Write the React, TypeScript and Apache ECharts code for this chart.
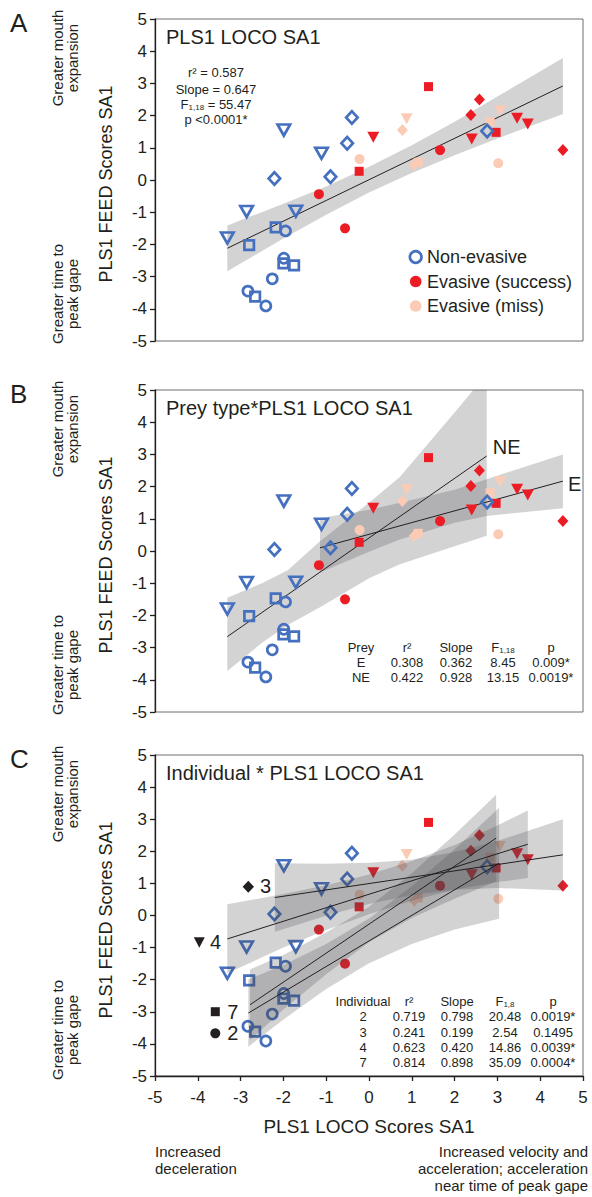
import React, { useEffect, useRef } from "react";
import * as echarts from "echarts";

const FONT = '"Liberation Sans", Arial, Helvetica, sans-serif';
const INK = "#231f20";
const BLUE = "#4570bf";
const RED = "#ec1c24";
const PEACH = "#fbcbb5";
const BAND = "rgba(70,72,76,0.24)";

// ---- axis ----
const AXIS_MIN = -5;
const AXIS_MAX = 5;
const AXIS_STEP = 1;

// ---- points [x, y] ----
const nonEvasiveCircle = [[-1.95, -1.58], [-1.99, -2.43], [-2.26, -3.07], [-2.83, -3.45], [-2.41, -3.91]];
const nonEvasiveSquare = [[-2.8, -2.02], [-2.18, -1.47], [-2.0, -2.59], [-1.75, -2.65], [-2.66, -3.62]];
const nonEvasiveTriangle = [[-3.31, -1.8], [-2.86, -0.98], [-1.99, 1.55], [-1.71, -0.97], [-1.11, 0.83]];
const nonEvasiveDiamond = [[-2.21, 0.05], [-0.9, 0.1], [-0.51, 1.14], [-0.4, 1.94], [2.76, 1.52]];
const successCircle = [[-1.17, -0.44], [-0.56, -1.5], [1.66, 0.93]];
const successSquare = [[1.39, 2.9], [-0.23, 0.27], [2.97, 1.48]];
const successTriangle = [[0.1, 1.33], [2.4, 1.27], [3.46, 1.92], [3.71, 1.74]];
const successDiamond = [[2.58, 2.5], [2.38, 2.02], [4.53, 0.93]];
const missCircle = [[-0.22, 0.65], [3.02, 0.52]];
const missSquare = [[1.15, 0.55], [2.83, 1.81]];
const missTriangle = [[0.88, 1.9], [3.06, 2.15]];
const missDiamond = [[0.78, 1.55], [1.06, 0.47]];

// ---- regression lines ----
const lineAll = [[-3.31, -2.12], [4.53, 2.92]];
const lineNE = [[-3.31, -2.66], [2.75, 2.95]];
const lineE = [[-1.145, 0.1], [4.53, 2.17]];
const lineInd2 = [[-2.82, -3.04], [3.04, 1.63]];
const lineInd3 = [[-2.2, 0.56], [4.53, 1.89]];
const lineInd4 = [[-3.31, -0.73], [3.71, 2.22]];
const lineInd7 = [[-2.78, -2.78], [2.97, 2.41]];

// ---- confidence bands (x, lower, upper) ----
const bandAllX = [-3.31, -2, -1, 0, 1, 2, 3, 4.53];
const bandAllLo = [-2.83, -1.82, -1.08, -0.39, 0.22, 0.77, 1.29, 2.05];
const bandAllHi = [-1.41, -0.74, -0.2, 0.41, 1.08, 1.81, 2.59, 3.79];

const bandNEX = [-3.31, -2.5, -1.9, -1.145, 0, 0.72, 2, 2.75];
const bandNELo = [-3.73, -2.85, -2.3, -1.75, -0.85, -0.41, 0.15, 0.47];
const bandNEHi = [-1.45, -1.0, -0.6, 0.3, 1.5, 2.3, 4.3, 5.5];

const bandEX = [-1.145, 0, 0.72, 2, 2.75, 4.53];
const bandELo = [-0.67, -0.02, 0.36, 0.88, 1.09, 1.33];
const bandEHi = [1.02, 1.28, 1.5, 1.9, 2.23, 3.0];

const band2X = [-2.82, -2, -1, 0, 1, 2, 3.04];
const band2Lo = [-4.09, -3.24, -2.29, -1.49, -0.89, -0.44, -0.1];
const band2Hi = [-1.99, -1.54, -0.89, -0.09, 0.91, 2.06, 3.36];

const band3X = [-2.2, -1, 0, 1, 2, 3, 4.53];
const band3Lo = [-0.51, -0.01, 0.36, 0.64, 0.8, 0.86, 0.78];
const band3Hi = [1.63, 1.61, 1.64, 1.74, 1.98, 2.32, 3.0];

const band4X = [-3.31, -2, -1, 0, 1, 2, 3, 3.71];
const band4Lo = [-1.8, -1.0, -0.45, 0.04, 0.46, 0.8, 1.04, 1.17];
const band4Hi = [0.35, 0.67, 0.94, 1.28, 1.7, 2.2, 2.8, 3.27];

const band7X = [-2.78, -2, -1, 0, 1, 2, 2.97];
const band7Lo = [-3.88, -2.93, -1.83, -0.83, -0.08, 0.52, 1.06];
const band7Hi = [-1.68, -1.23, -0.53, 0.27, 1.32, 2.52, 3.76];

// ---- texts ----
const panelLetters = ["A", "B", "C"];
const panelTitles = ["PLS1 LOCO SA1", "Prey type*PLS1 LOCO SA1", "Individual * PLS1 LOCO SA1"];
const yName = "PLS1 FEED Scores SA1";
const xName = "PLS1 LOCO Scores SA1";
const yUpperNote = "Greater mouth\nexpansion";
const yLowerNote = "Greater time to\npeak gape";
const xLeftNote = "Increased\ndeceleration";
const xRightNote = "Increased velocity and\nacceleration; acceleration\nnear time of peak gape";
const legendNames = ["Non-evasive", "Evasive (success)", "Evasive (miss)"];
const statsA = ["r\u00b2 = 0.587", "Slope = 0.647", "{f|F}{s|1,18}{f| = 55.47}", "p <0.0001*"];
const preyHeader = ["Prey", "r\u00b2", "Slope", "{f|F}{s|1,18}", "p"];
const preyRows = [
  ["E", "0.308", "0.362", "8.45", "0.009*"],
  ["NE", "0.422", "0.928", "13.15", "0.0019*"],
];
const indHeader = ["Individual", "r\u00b2", "Slope", "{f|F}{s|1,8}", "p"];
const indRows = [
  ["2", "0.719", "0.798", "20.48", "0.0019*"],
  ["3", "0.241", "0.199", "2.54", "0.1495"],
  ["4", "0.623", "0.420", "14.86", "0.0039*"],
  ["7", "0.814", "0.898", "35.09", "0.0004*"],
];

// ---- layout ----
const GRID_LEFT = 155;
const GRID_W = 428;
const TOPS = [19, 390, 755];
const HEIGHTS = [322, 322, 321];

const groups = [
  { data: missCircle, symbol: "circle", size: 10, color: PEACH, hollow: false, rot: 0 },
  { data: missSquare, symbol: "rect", size: 9, color: PEACH, hollow: false, rot: 0 },
  { data: missTriangle, symbol: "triangle", size: [12, 11], color: PEACH, hollow: false, rot: 180 },
  { data: missDiamond, symbol: "diamond", size: [11, 12], color: PEACH, hollow: false, rot: 0 },
  { data: successCircle, symbol: "circle", size: 10, color: RED, hollow: false, rot: 0 },
  { data: successSquare, symbol: "rect", size: 9, color: RED, hollow: false, rot: 0 },
  { data: successTriangle, symbol: "triangle", size: [12, 11], color: RED, hollow: false, rot: 180 },
  { data: successDiamond, symbol: "diamond", size: [11, 12], color: RED, hollow: false, rot: 0 },
  { data: nonEvasiveCircle, symbol: "circle", size: 10, color: BLUE, hollow: true, rot: 0 },
  { data: nonEvasiveSquare, symbol: "rect", size: 9.5, color: BLUE, hollow: true, rot: 0 },
  { data: nonEvasiveTriangle, symbol: "triangle", size: [12.5, 11], color: BLUE, hollow: true, rot: 180 },
  { data: nonEvasiveDiamond, symbol: "diamond", size: [11.5, 12.5], color: BLUE, hollow: true, rot: 0 },
];

function bandSeries(xs: number[], lo: number[], hi: number[], gi: number, z: number) {
  return {
    type: "custom",
    xAxisIndex: gi,
    yAxisIndex: gi,
    z,
    silent: true,
    clip: true,
    data: [[0, 0]],
    renderItem: (_p: any, api: any) => {
      const pts: number[][] = [];
      xs.forEach((x, k) => pts.push(api.coord([x, hi[k]])));
      for (let k = xs.length - 1; k >= 0; k--) pts.push(api.coord([xs[k], lo[k]]));
      return { type: "polygon", shape: { points: pts }, style: { fill: BAND, stroke: null } };
    },
  };
}

function lineSeries(data: number[][], gi: number, z: number) {
  return {
    type: "line",
    xAxisIndex: gi,
    yAxisIndex: gi,
    z,
    silent: true,
    symbol: "none",
    data,
    lineStyle: { color: INK, width: 1 },
  };
}

function txt(text: string, x: number, y: number, size: number, o: any = {}) {
  const align = o.align || "left";
  return {
    type: "text",
    x,
    y,
    rotation: o.rot || 0,
    silent: true,
    z: 100,
    style: {
      text,
      fontSize: size,
      fontFamily: FONT,
      fill: o.color || INK,
      align,
      textAlign: align,
      verticalAlign: "middle",
      textVerticalAlign: "middle",
      lineHeight: o.lh,
      rich: o.rich,
    },
  };
}

const richF = (size: number) => ({
  f: { fontSize: size, fontFamily: FONT, fill: INK, color: INK },
  s: { fontSize: 8, fontFamily: FONT, fill: INK, color: INK, verticalAlign: "bottom", padding: [6, 0, 0, 0] },
});

export default function App() {
  const ref = useRef<HTMLDivElement>(null);
  useEffect(() => {
    if (!ref.current) return;
    const chart = echarts.init(ref.current, undefined, { renderer: "svg" });

    const grids = TOPS.map((t, i) => ({
      left: GRID_LEFT,
      top: t,
      width: GRID_W,
      height: HEIGHTS[i],
      show: true,
      borderColor: "#6d6e71",
      borderWidth: 1,
      backgroundColor: "transparent",
    }));
    const xAxes = [0, 1, 2].map((i) => ({
      type: "value",
      gridIndex: i,
      min: AXIS_MIN,
      max: AXIS_MAX,
      interval: AXIS_STEP,
      splitLine: { show: false },
      axisLine: { show: i === 2, onZero: false, lineStyle: { color: INK, width: 1.3 } },
      axisTick: { show: i === 2, length: 5, lineStyle: { color: INK, width: 1.3 } },
      axisLabel: { show: i === 2, fontSize: 17, color: INK, fontFamily: FONT, margin: 13 },
    }));
    const yAxes = [0, 1, 2].map((i) => ({
      type: "value",
      gridIndex: i,
      min: AXIS_MIN,
      max: AXIS_MAX,
      interval: AXIS_STEP,
      splitLine: { show: false },
      axisLine: { show: true, onZero: false, lineStyle: { color: INK, width: 1.3 } },
      axisTick: { show: true, length: 5, lineStyle: { color: INK, width: 1.3 } },
      axisLabel: { fontSize: 17, color: INK, fontFamily: FONT, margin: 8 },
    }));

    const series: any[] = [];
    // bands
    series.push(bandSeries(bandAllX, bandAllLo, bandAllHi, 0, 1));
    series.push(bandSeries(bandNEX, bandNELo, bandNEHi, 1, 1));
    series.push(bandSeries(bandEX, bandELo, bandEHi, 1, 1));
    series.push(bandSeries(band2X, band2Lo, band2Hi, 2, 4));
    series.push(bandSeries(band3X, band3Lo, band3Hi, 2, 4));
    series.push(bandSeries(band4X, band4Lo, band4Hi, 2, 4));
    series.push(bandSeries(band7X, band7Lo, band7Hi, 2, 4));
    // lines
    series.push(lineSeries(lineAll, 0, 2));
    series.push(lineSeries(lineNE, 1, 2));
    series.push(lineSeries(lineE, 1, 2));
    series.push(lineSeries(lineInd2, 2, 5));
    series.push(lineSeries(lineInd3, 2, 5));
    series.push(lineSeries(lineInd4, 2, 5));
    series.push(lineSeries(lineInd7, 2, 5));
    // points
    [0, 1, 2].forEach((gi) => {
      groups.forEach((g) => {
        series.push({
          type: "scatter",
          xAxisIndex: gi,
          yAxisIndex: gi,
          z: 3,
          silent: true,
          data: g.data,
          symbol: g.symbol,
          symbolSize: g.size,
          symbolRotate: g.rot,
          itemStyle: g.hollow
            ? { color: "rgba(0,0,0,0)", borderColor: g.color, borderWidth: 2.7, opacity: 1 }
            : { color: g.color, borderWidth: 0, opacity: 1 },
        });
      });
    });

    const G: any[] = [];
    TOPS.forEach((t, i) => {
      G.push(txt(panelLetters[i], 10, t + 4, 26));
      G.push(txt(panelTitles[i], 166, t + 18, 20));
      G.push(txt(yName, 106, t + 165, 18, { rot: Math.PI / 2, align: "center" }));
      G.push(txt(yUpperNote, 64.5, t + 39, 15, { rot: Math.PI / 2, align: "center", lh: 15 }));
      G.push(txt(yLowerNote, 64.5, t + 275, 15, { rot: Math.PI / 2, align: "center", lh: 15 }));
    });
    // panel A stats
    const statY = [72, 89, 104, 119];
    statsA.forEach((s, k) => G.push(txt(s, 216, statY[k], 13, { align: "center", rich: richF(13) })));
    // panel A legend
    const legY = [257, 281.5, 306];
    G.push({ type: "circle", z: 100, silent: true, shape: { cx: 415.7, cy: legY[0], r: 5.8 }, style: { fill: "none", stroke: BLUE, lineWidth: 2.7 } });
    G.push({ type: "circle", z: 100, silent: true, shape: { cx: 415.7, cy: legY[1], r: 5.8 }, style: { fill: RED } });
    G.push({ type: "circle", z: 100, silent: true, shape: { cx: 415.7, cy: legY[2], r: 5.8 }, style: { fill: PEACH } });
    legendNames.forEach((n, k) => G.push(txt(n, 427, legY[k], 18)));
    // panel B labels
    G.push(txt("NE", 492.7, 447, 20));
    G.push(txt("E", 568, 484, 20));
    // tables
    const preyCols = [361, 407, 456, 503, 551];
    preyHeader.forEach((h, c) => G.push(txt(h, preyCols[c], 647, 13, { align: "center", rich: richF(13) })));
    preyRows.forEach((row, r) =>
      row.forEach((v, c) => G.push(txt(v, preyCols[c], 662 + r * 15, 13, { align: "center" })))
    );
    const indCols = [363, 409, 457, 505, 553];
    indHeader.forEach((h, c) => G.push(txt(h, indCols[c], 1001.5, 13, { align: "center", rich: richF(13) })));
    indRows.forEach((row, r) =>
      row.forEach((v, c) => G.push(txt(v, indCols[c], 1016.8 + r * 15.3, 13, { align: "center" })))
    );
    // panel C individual keys
    G.push({ type: "polygon", z: 100, silent: true, shape: { points: [[248.3, 880.7], [254, 886.7], [248.3, 892.7], [242.6, 886.7]] }, style: { fill: INK } });
    G.push(txt("3", 260, 886, 20));
    G.push({ type: "polygon", z: 100, silent: true, shape: { points: [[193.8, 937.3], [204.8, 937.3], [199.3, 947.8]] }, style: { fill: INK } });
    G.push(txt("4", 210, 942, 20));
    G.push({ type: "rect", z: 100, silent: true, shape: { x: 210.8, y: 1007.2, width: 9, height: 9 }, style: { fill: INK } });
    G.push(txt("7", 227.3, 1011.5, 20));
    G.push({ type: "circle", z: 100, silent: true, shape: { cx: 215.3, cy: 1033.3, r: 5 }, style: { fill: INK } });
    G.push(txt("2", 227.3, 1033, 20));
    // bottom
    G.push(txt(xName, 369, 1126, 19, { align: "center" }));
    G.push(txt(xLeftNote, 155, 1159.5, 15, { lh: 17 }));
    G.push(txt(xRightNote, 588, 1168, 15, { align: "right", lh: 17 }));

    chart.setOption({
      animation: false,
      backgroundColor: "#ffffff",
      textStyle: { fontFamily: FONT },
      grid: grids,
      xAxis: xAxes,
      yAxis: yAxes,
      series,
      graphic: { elements: G },
    });
    return () => chart.dispose();
  }, []);
  return (
    <div
      ref={ref}
      style={{ position: "absolute", left: 0, top: 0, width: 592, height: 1197, background: "#fff" }}
    />
  );
}
